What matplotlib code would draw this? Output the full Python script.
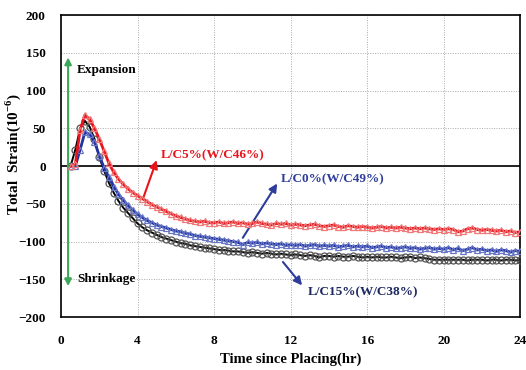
import numpy as np
import matplotlib
matplotlib.use("Agg")
import matplotlib.pyplot as plt

# time since placing (hr), one reading every 15 min from 0.5 h
hours = np.arange(0.5, 24.01, 0.25)

# total strain (x10^-6), rows grouped by hour
lc5 = [0, 3,
       48, 68, 62, 50,
       36, 20, 4, -8,
       -17, -24, -30, -35,
       -39, -43, -47, -51,
       -54, -57, -60, -63,
       -66, -68, -70, -72,
       -73, -74, -73, -75,
       -75, -74, -76, -75,
       -74, -76, -75, -77,
       -76, -74, -76, -77,
       -78, -76, -77, -76,
       -78, -77, -78, -79,
       -78, -77, -79, -80,
       -79, -78, -80, -81,
       -79, -80, -81, -80,
       -81, -82, -81, -80,
       -82, -81, -82, -81,
       -82, -83, -82, -83,
       -82, -83, -84, -83,
       -84, -83, -84, -87,
       -86, -83, -82, -84,
       -85, -84, -85, -86,
       -85, -87, -86, -88,
       -87]

lc0 = [0, 0,
       22, 45, 42, 32,
       14, -2, -15, -27,
       -37, -45, -52, -58,
       -64, -68, -72, -75,
       -78, -80, -82, -84,
       -86, -87, -89, -90,
       -92, -93, -94, -95,
       -96, -97, -98, -99,
       -100, -101, -104, -101,
       -102, -101, -103, -102,
       -103, -104, -103, -105,
       -104, -105, -104, -106,
       -105, -104, -106, -105,
       -106, -105, -107, -106,
       -105, -107, -106, -107,
       -106, -108, -107, -106,
       -108, -107, -109, -108,
       -107, -109, -108, -110,
       -109, -108, -110, -109,
       -110, -108, -111, -109,
       -112, -110, -108, -111,
       -110, -112, -111, -113,
       -111, -112, -114, -112,
       -113]

lc15 = [0, 22,
        50, 60, 52, 36,
        12, -6, -22, -35,
        -46, -55, -62, -69,
        -76, -81, -85, -88,
        -91, -94, -96, -98,
        -100, -102, -103, -105,
        -106, -107, -108, -109,
        -110, -111, -111, -112,
        -113, -113, -114, -115,
        -114, -115, -116, -115,
        -116, -117, -116, -117,
        -118, -117, -118, -119,
        -118, -119, -121, -119,
        -119, -120, -119, -120,
        -120, -119, -120, -121,
        -120, -121, -120, -121,
        -121, -120, -121, -122,
        -121, -120, -122, -121,
        -122, -123, -124, -124,
        -124, -124, -124, -124,
        -124, -125, -124, -124,
        -124, -125, -124, -124,
        -125, -124, -124, -125,
        -124]

x_ticks = [0, 4, 8, 12, 16, 20, 24]
y_ticks = [-200, -150, -100, -50, 0, 50, 100, 150, 200]

plt.rcParams['font.family'] = ['Liberation Serif', 'DejaVu Serif']
plt.rcParams['font.weight'] = 'bold'
plt.rcParams['mathtext.fontset'] = 'custom'
plt.rcParams['mathtext.rm'] = 'Liberation Serif:bold'

fig = plt.figure(figsize=(5.26, 3.7), dpi=100)
ax = fig.add_axes([0.116, 0.143, 0.873, 0.816])

ax.plot(hours, lc15, '-o', color='black', lw=1.4, ms=5, mfc='none',
        mec='#555555', mew=0.9, zorder=3)
ax.plot(hours, lc0, '-^', color='#2233a0', lw=2.0, ms=5, mfc='none',
        mec='#6a78c8', mew=0.9, zorder=4)
ax.plot(hours, lc5, '-^', color='#e8141c', lw=2.0, ms=5, mfc='none',
        mec='#f07a7a', mew=0.9, zorder=5)

ax.axhline(0, color='black', lw=1.2, zorder=2)

ax.set_xlim(0, 24)
ax.set_ylim(-200, 200)
ax.set_xticks(x_ticks)
ax.set_yticks(y_ticks)
ax.tick_params(axis='both', length=0, labelsize=9.5)
ax.tick_params(axis='x', pad=13)
ax.tick_params(axis='y', pad=11)
ax.grid(True, linestyle=(0, (1, 1.5)), color='#aaaaaa', lw=0.7)
for s in ax.spines.values():
    s.set_linewidth(1.2)

ax.set_xlabel('Time since Placing(hr)', fontsize=10.5, fontweight='bold')
ax.set_ylabel(r'Total  Strain(10$^{\mathregular{-6}}$)', fontsize=11,
              fontweight='bold')
ax.yaxis.set_label_coords(-0.083, 0.54)

# expansion / shrinkage marker
ax.annotate('', xy=(0.37, 144), xytext=(0.37, -159),
            arrowprops=dict(arrowstyle='<|-|>', color='#3aa858', lw=1.5,
                            mutation_scale=10, shrinkA=0, shrinkB=0))
ax.text(0.84, 128, 'Expansion', fontsize=9.5, fontweight='bold', va='center')
ax.text(0.84, -150, 'Shrinkage', fontsize=9.5, fontweight='bold', va='center')

# series labels
ax.annotate('', xy=(5.0, 8), xytext=(4.3, -42),
            arrowprops=dict(arrowstyle='-|>', color='#e8141c', lw=1.5,
                            mutation_scale=12, shrinkA=0, shrinkB=0))
ax.text(5.2, 15, 'L/C5%(W/C46%)', color='#e8141c', fontsize=9.5,
        fontweight='bold', va='center')

ax.annotate('', xy=(11.3, -23), xytext=(9.5, -95),
            arrowprops=dict(arrowstyle='-|>', color='#2e3d9a', lw=1.5,
                            mutation_scale=12, shrinkA=0, shrinkB=0))
ax.text(11.5, -17, 'L/C0%(W/C49%)', color='#2e3d9a', fontsize=9.5,
        fontweight='bold', va='center')

ax.annotate('', xy=(12.6, -158), xytext=(11.6, -127),
            arrowprops=dict(arrowstyle='-|>', color='#2e3d9a', lw=1.5,
                            mutation_scale=12, shrinkA=0, shrinkB=0))
ax.text(12.9, -167, 'L/C15%(W/C38%)', color='#1c2660', fontsize=9.5,
        fontweight='bold', va='center')

fig.savefig('out.png', dpi=100)
